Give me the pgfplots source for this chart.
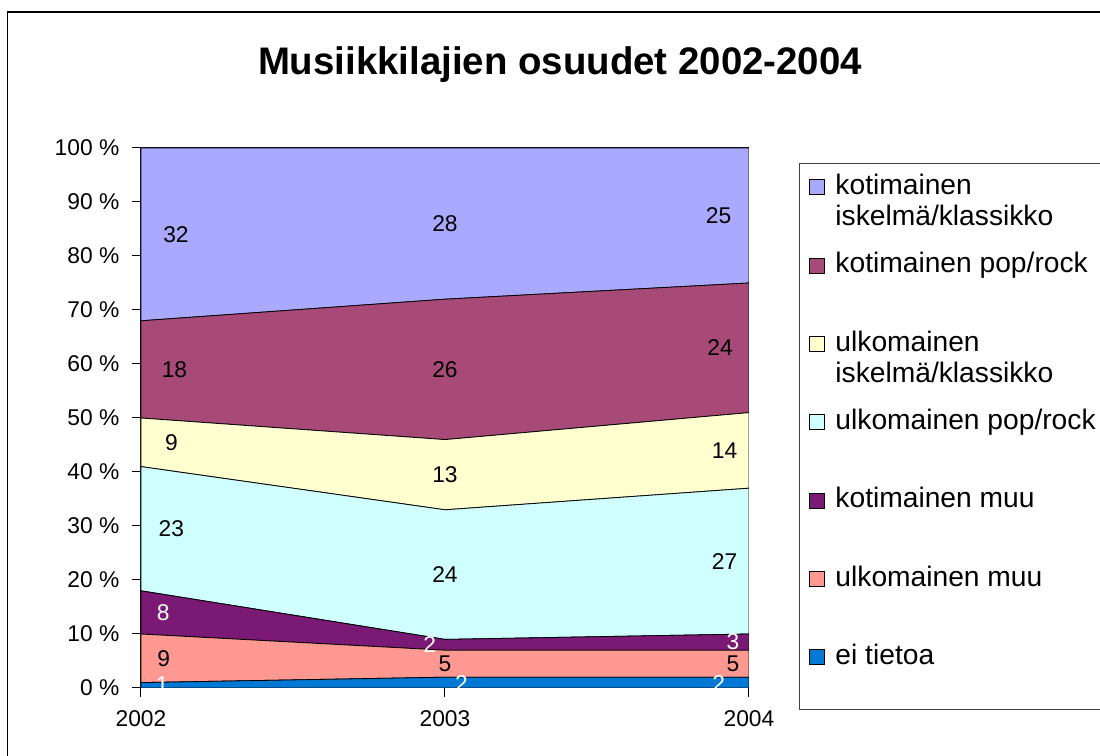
\documentclass[border=0pt]{standalone}
\usepackage{fontspec}
\setmainfont{Liberation Sans}
\usepackage{pgfplots}
\pgfplotsset{compat=1.18}

\definecolor{cEi}{HTML}{0078D4}
\definecolor{cUlkMuu}{HTML}{FF9890}
\definecolor{cKotMuu}{HTML}{7B1A75}
\definecolor{cUlkPop}{HTML}{D0FFFF}
\definecolor{cUlkIsk}{HTML}{FFFFD0}
\definecolor{cKotPop}{HTML}{A84A78}
\definecolor{cKotIsk}{HTML}{A9A9FF}

% legend entries: one row per entry, second line hangs below the baseline
\newcommand{\legtwo}[2]{\vtop{\hbox{\strut #1}\hbox{\strut #2}}}

\begin{document}
\begin{tikzpicture}[x=1pt,y=1pt]
% outer chart frame
\draw[black, line width=0.75pt] (3.75,-5) -- (3.75,372) -- (560,372);
\node[font=\bfseries\fontsize{19.2}{23}\selectfont] at (280,345.5) {Musiikkilajien osuudet 2002-2004};

\begin{axis}[
    at={(70.5pt,34pt)}, anchor=south west,
    width=304pt, height=270pt, scale only axis,
    xmin=2002, xmax=2004, ymin=0, ymax=100,
    stack plots=y,
    xtick={2002,2003,2004},
    xticklabels={2002,2003,2004},
    ytick={0,10,...,100},
    yticklabel={\pgfmathprintnumber[assume math mode=true]{\tick}~\%},
    tick align=outside, xtick pos=bottom, ytick pos=left,
    major tick length=4.5pt,
    tick style={black, line width=0.5pt},
    axis line style={black, line width=0.5pt},
    ticklabel style={font=\fontsize{11.4}{13}\selectfont},
    yticklabel style={xshift=-2.8pt},
    xticklabel style={yshift=-3.3pt},
    reverse legend,
    legend image code/.code={\draw[#1, draw=black, line width=0.5pt] (0pt,-0.2pt) rectangle (7.5pt,7.3pt);},
    legend style={at={(1.0822,0.9722)}, anchor=north west,
        draw=black!75, line width=0.5pt,
        inner xsep=5pt, inner ysep=4.65pt, row sep=0pt, column sep=5pt,
        nodes={inner sep=0pt, text depth=28.3pt},
        cells={anchor=base west},
        font=\fontsize{14.1}{15.5}\selectfont},
]
\addplot[fill=cEi, draw=black, line width=0.4pt] coordinates {(2002,1) (2003,2) (2004,2)} \closedcycle;
\addlegendentry[text depth=18.0pt]{\strut ei tietoa}
\addplot[fill=cUlkMuu, draw=black, line width=0.4pt] coordinates {(2002,9) (2003,5) (2004,5)} \closedcycle;
\addlegendentry{\strut ulkomainen muu}
\addplot[fill=cKotMuu, draw=black, line width=0.4pt] coordinates {(2002,8) (2003,2) (2004,3)} \closedcycle;
\addlegendentry{\strut kotimainen muu}
\addplot[fill=cUlkPop, draw=black, line width=0.4pt] coordinates {(2002,23) (2003,24) (2004,27)} \closedcycle;
\addlegendentry{\strut ulkomainen pop/rock}
\addplot[fill=cUlkIsk, draw=black, line width=0.4pt] coordinates {(2002,9) (2003,13) (2004,14)} \closedcycle;
\addlegendentry{\legtwo{ulkomainen}{iskelmä/klassikko}}
\addplot[fill=cKotPop, draw=black, line width=0.4pt] coordinates {(2002,18) (2003,26) (2004,24)} \closedcycle;
\addlegendentry{\strut kotimainen pop/rock}
\addplot[fill=cKotIsk, draw=black, line width=0.4pt] coordinates {(2002,32) (2003,28) (2004,25)} \closedcycle;
\addlegendentry{\legtwo{kotimainen}{iskelmä/klassikko}}
\end{axis}

% data labels, same geometry
\begin{axis}[
    at={(70.5pt,34pt)}, anchor=south west,
    width=304pt, height=270pt, scale only axis,
    xmin=2002, xmax=2004, ymin=0, ymax=100,
    hide axis, clip=false,
    every node near coord/.append style={font=\fontsize{11.4}{13}\selectfont, anchor=center, inner sep=0pt},
]
\addplot[draw=none, mark=none, nodes near coords, point meta=explicit symbolic,
    every node near coord/.append style={text=black}] coordinates {
    (2002.115,84) [32] (2002.11,59) [18] (2002.10,45.5) [9] (2002.10,29.5) [23] (2002.075,5.5) [9]
    (2003,86) [28] (2003,59) [26] (2003,39.5) [13] (2003,21) [24] (2003,4.5) [5]
    (2003.90,87.5) [25] (2003.905,63) [24] (2003.92,44) [14] (2003.92,23.5) [27] (2003.947,4.5) [5]
};
\addplot[draw=none, mark=none, nodes near coords, point meta=explicit symbolic,
    every node near coord/.append style={text=white}] coordinates {
    (2002.073,14) [8] (2002.07,0.6) [1]
    (2002.95,8) [2] (2003.054,0.8) [2]
    (2003.947,8.5) [3] (2003.90,0.8) [2]
};
\end{axis}

\pgfresetboundingbox
\path[use as bounding box] (0,0) rectangle (550,378);
\end{tikzpicture}
\end{document}
